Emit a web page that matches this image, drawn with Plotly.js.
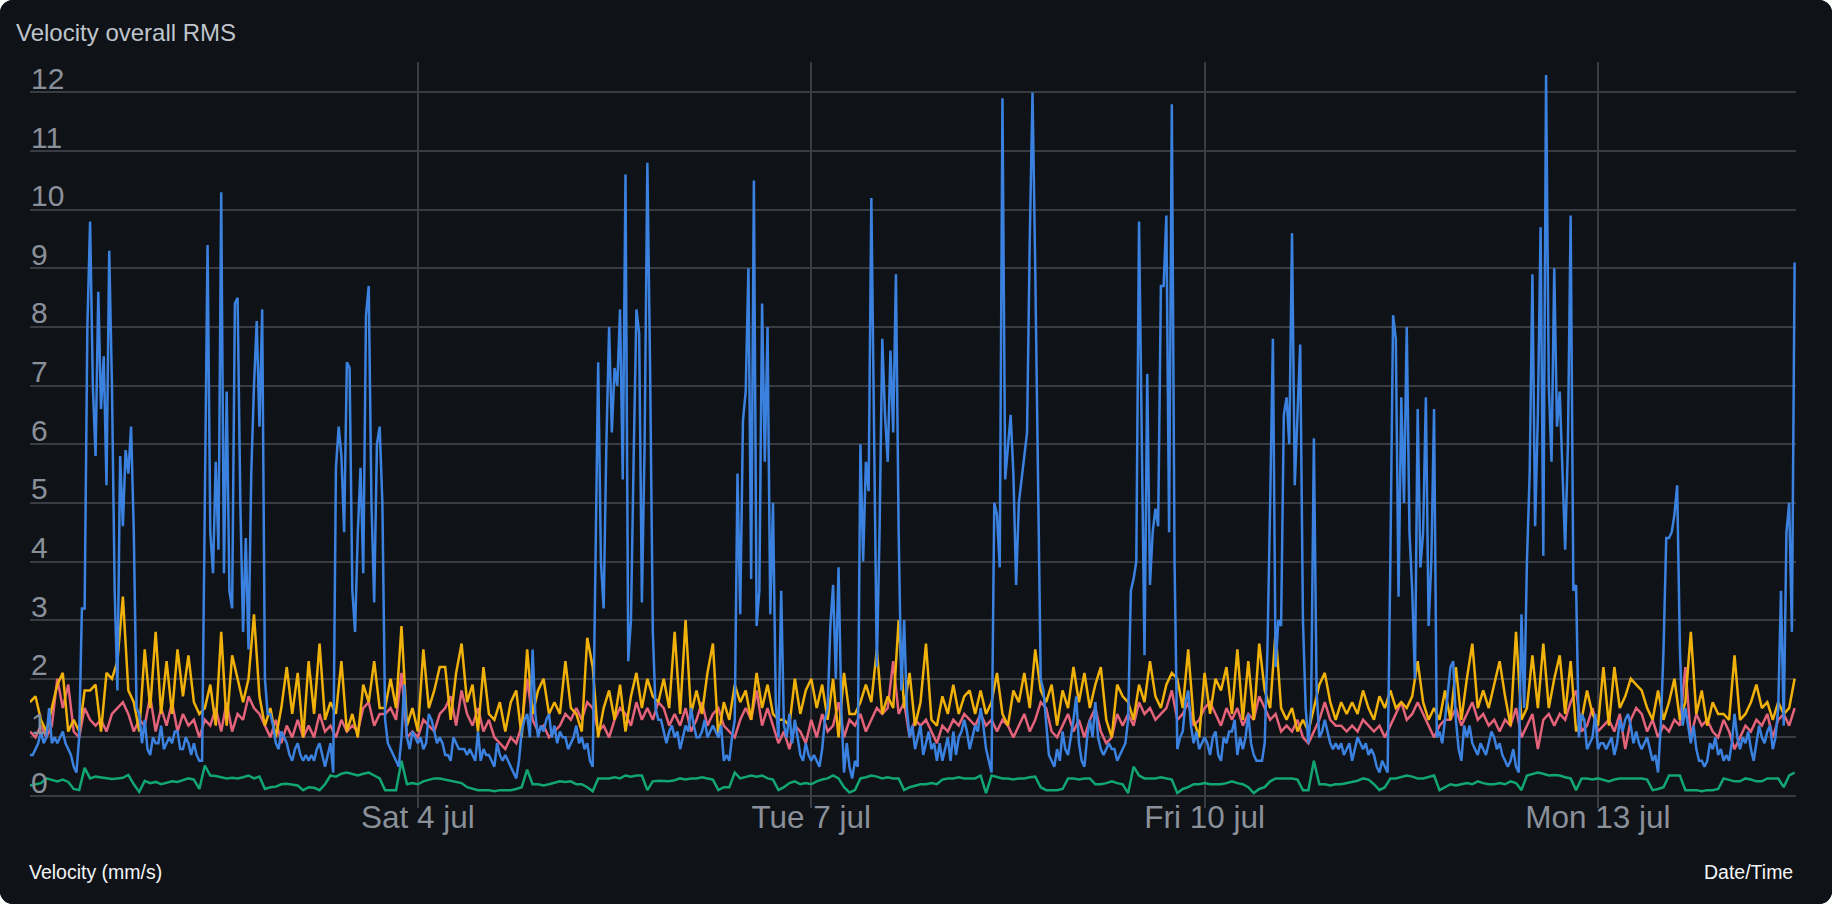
<!DOCTYPE html>
<html>
<head>
<meta charset="utf-8">
<script src="https://cdn.plot.ly/plotly-3.0.1.min.js"></script>
<style>
  html, body { margin: 0; padding: 0; background: #ffffff; }
  #plot1 { width: 1832px; height: 904px; border-radius: 13px; overflow: hidden; background: #0f1216; }
</style>
</head>
<body>
<div id="plot1"></div>
<script>
// first sample 2020-07-01 01:00, blue every 30 min, the others every hour
var startTime = Date.UTC(2020, 6, 1, 1, 0);

var tickDates = ['2020-07-04', '2020-07-07', '2020-07-10', '2020-07-13'];
var tickLabels = ['Sat 4 jul', 'Tue 7 jul', 'Fri 10 jul', 'Mon 13 jul'];

var blue = [
  0.7, 0.7, 0.8, 0.9, 1.1, 0.9, 1.0, 1.5, 0.9, 1.0, 0.9, 1.0, 1.1, 0.9, 0.8, 0.7, 0.5, 0.4, 1.0, 3.2,
  3.2, 8.0, 9.8, 7.0, 5.8, 8.6, 6.6, 7.5, 5.3, 9.3, 7.0, 3.5, 1.8, 5.8, 4.6, 5.9, 5.5, 6.3, 4.5, 1.5,
  1.4, 0.9, 1.3, 0.8, 0.7, 1.0, 0.9, 0.9, 1.2, 0.8, 0.9, 1.0, 0.9, 1.1, 1.1, 0.8, 0.8, 1.0, 0.9, 0.7, 0.9, 0.7, 0.6, 0.6,
  5.0, 9.4, 4.5, 3.8, 5.7, 4.2, 10.3, 3.8, 6.9, 3.5, 3.2, 8.4, 8.5, 5.0, 2.8, 4.4, 2.5, 5.5, 7.0, 8.1, 6.3, 8.3, 2.0, 1.4,
  1.4, 1.2, 0.9, 0.8, 1.1, 1.0, 0.9, 0.7, 0.6, 0.8, 0.9, 0.7, 0.6, 0.7, 0.6, 0.7, 0.6, 0.8, 0.9, 0.7, 0.5, 0.7, 0.9, 0.4,
  5.6, 6.3, 5.8, 4.5, 7.4, 7.3, 3.5, 2.8, 4.5, 5.6, 3.8, 8.2, 8.7, 5.0, 3.3, 6.0, 6.3,
  5.0, 1.3, 0.9, 0.8, 0.7, 0.6, 0.5, 1.0, 1.9, 1.0,
  0.8, 1.1, 1.0, 0.9, 1.0, 0.8, 0.9, 1.4, 1.3, 1.1,
  0.9, 1.0, 0.9, 0.7, 0.7, 0.6, 1.0, 0.9, 0.8, 0.8,
  0.8, 0.7, 0.8, 0.7, 0.6, 1.1, 0.6, 0.8, 0.7, 0.7,
  0.6, 0.5, 0.9, 0.7, 0.6, 0.7, 0.6, 0.5, 0.4, 0.3,
  0.6, 1.1, 1.3, 1.4, 1.0, 2.5, 1.4, 1.0, 1.2, 1.1,
  1.3, 1.4, 1.0, 1.2, 0.9, 1.1, 1.0, 1.0, 0.8, 0.9,
  1.0, 1.2, 0.9, 1.0, 0.8, 0.9, 0.6, 0.5,
  4.0, 7.4, 4.0, 3.2, 6.0, 8.0, 6.2, 7.3, 7.0, 8.3, 5.4, 10.6, 2.3, 3.0, 5.8, 8.3, 7.9, 3.3, 6.0, 10.8, 7.3, 2.8, 1.5,
  1.3, 1.3, 1.1, 0.9, 1.1, 1.2, 1.0, 1.1, 0.8, 1.0,
  1.2, 1.1, 1.5, 1.2, 1.0, 1.0, 1.1, 1.3, 1.0, 1.1,
  1.2, 1.1, 1.0, 1.2, 0.6, 0.7, 0.6, 1.0, 1.3,
  5.5, 3.1, 6.4, 6.9, 9.0, 3.7, 10.5, 2.9, 3.5, 8.4, 5.7, 8.0, 3.1, 5.0, 1.6, 1.0, 3.5, 1.2,
  1.0, 1.4, 0.9, 1.3, 1.0, 0.7, 0.6, 0.9, 0.7, 0.6,
  0.7, 0.6, 0.5, 0.8, 1.3, 1.5, 2.9, 3.6, 2.0, 3.9,
  1.5, 0.4, 0.9, 0.5, 0.3, 0.6, 0.5,
  6.0, 4.0, 5.7, 5.2, 10.2, 6.0, 2.2, 4.5, 7.8, 6.5, 5.7, 7.6, 6.2, 8.9, 4.5, 1.8, 3.0, 1.5,
  1.0, 1.2, 0.8, 1.0, 1.2, 0.7, 0.9, 1.1, 0.8, 0.9,
  0.6, 0.9, 0.6, 0.8, 1.0, 0.6, 1.1, 0.7, 1.0, 1.1,
  1.3, 1.1, 0.8, 1.0, 1.2, 1.1, 1.5, 1.2, 0.8, 0.6,
  0.4,
  5.0, 4.8, 3.9, 11.9, 5.4, 6.0, 6.5, 5.5, 3.6, 5.0, 5.4, 5.8, 6.2, 9.5, 12.0, 9.0, 5.0, 2.0, 1.8,
  1.3, 0.7, 0.6, 0.5, 0.8, 0.6, 1.1, 0.8, 0.7, 1.0,
  1.3, 1.7, 0.9, 0.6, 0.5, 1.0, 1.3, 1.0, 1.6, 1.0,
  0.8, 0.7, 0.8, 0.9, 0.8, 0.8, 0.6, 0.7, 0.8, 0.9,
  1.3,
  3.5, 3.7, 4.0, 9.8, 6.0, 2.4, 7.2, 3.6, 4.5, 4.9, 4.6, 8.7, 8.7, 9.9, 4.5, 11.8, 4.0, 0.8, 1.0,
  1.1, 1.6, 1.8, 1.2, 0.9, 1.1, 0.8, 0.9, 1.0, 0.9,
  0.7, 1.0, 1.1, 0.7, 0.6, 1.0, 0.9, 1.1, 1.1, 1.3,
  0.7, 1.0, 0.8, 1.0, 1.4, 0.9, 0.7, 0.6, 0.6, 0.6,
  0.9,
  2.5, 5.0, 7.8, 2.2, 3.0, 2.9, 6.5, 6.8, 6.0, 9.6, 5.3, 6.5, 7.7, 3.0, 1.5, 0.9, 1.5, 6.1, 1.8, 1.0,
  1.1, 1.3, 1.1, 0.9, 0.8, 0.9, 0.8, 0.9, 0.7, 0.8,
  0.9, 0.6, 0.8, 1.0, 0.9, 0.8, 0.9, 0.7, 0.8, 0.7,
  0.5, 0.4, 0.6, 0.5, 0.4,
  4.0, 8.2, 7.8, 3.4, 6.8, 5.0, 8.0, 4.5, 3.5, 2.0, 6.6, 3.9, 4.5, 6.8, 2.9, 4.0, 6.6, 1.0, 1.1, 0.9, 1.3,
  1.8, 2.2, 2.3, 1.3, 0.8, 0.6, 1.2, 1.0, 1.2, 0.9,
  0.8, 0.7, 0.9, 0.8, 0.7, 0.9, 1.1, 1.0, 0.8, 0.9,
  0.7, 0.6, 0.5, 0.6, 0.8, 0.5, 0.4,
  3.1, 1.5, 4.0, 5.5, 8.9, 4.6, 6.5, 9.7, 4.1, 12.3, 7.0, 5.7, 9.0, 6.3, 6.9, 5.5, 4.2, 6.0, 9.9, 3.5, 3.6, 1.0, 1.4,
  1.3, 0.8, 0.9, 1.0, 1.4, 0.8, 0.9, 0.9, 0.8, 0.9,
  1.0, 0.7, 0.9, 1.3, 1.1, 1.3, 1.4, 1.2, 0.9, 1.1,
  0.9, 0.8, 0.9, 1.0, 0.8, 0.6, 0.7, 0.4, 1.2,
  2.5, 4.4, 4.4, 4.5, 4.8, 5.3, 2.5, 1.2,
  1.5, 1.2, 0.9, 1.2, 0.8, 0.6, 0.6, 0.5, 0.6, 0.9,
  0.8, 1.0, 0.7, 0.8, 0.6, 0.7, 0.6, 0.9, 1.4, 1.0,
  0.8, 1.0, 0.9, 1.1, 0.8, 0.6, 0.9, 1.2, 1.0, 0.9,
  1.1, 1.2, 0.8, 1.0, 1.5,
  3.5, 1.2, 4.5, 5.0, 2.8, 9.1
];

var yellow = [
  1.6, 1.7, 1.3, 1.1, 1.5, 1.9, 2.1, 1.1, 1.3, 1.1,
  1.8, 1.8, 1.9, 1.1, 2.1, 2.0, 2.3, 3.4, 1.8, 1.6,
  1.1, 2.5, 1.5, 2.8, 1.4, 2.3, 1.4, 2.5, 1.7, 2.4,
  1.6, 1.4, 1.5, 1.9, 1.2, 2.8, 1.2, 2.4, 2.0, 1.6,
  2.0, 3.1, 1.7, 1.2, 1.5, 1.0, 1.5, 2.2, 1.4, 2.1,
  1.0, 2.3, 1.4, 2.6, 1.3, 1.6, 1.4, 2.3, 1.1, 1.4,
  1.0, 1.9, 1.6, 2.3, 1.5,
  1.5, 2.0, 1.5, 2.9, 1.2, 1.5, 1.1, 2.5, 1.5, 1.8,
  2.2, 2.2, 1.3, 2.1, 2.6, 1.6, 1.9, 1.1, 2.2, 1.4,
  1.3, 1.6, 1.1, 1.6, 1.8, 1.0, 2.5, 1.4, 1.8, 2.0,
  1.4, 1.6, 1.4, 2.3, 1.5, 1.4, 1.1, 2.7, 2.2, 1.0,
  1.5, 1.8, 1.3, 1.9, 1.1, 1.7, 2.1, 1.5, 2.0, 1.7,
  1.6, 2.0, 1.5, 2.8, 1.4, 3.0, 1.4, 1.8, 1.4, 2.1,
  2.6, 1.0, 1.6, 1.3, 1.9,
  1.6, 1.8, 1.3, 2.1, 1.5, 1.9, 1.4, 1.3, 1.3, 1.2,
  2.0, 1.4, 1.8, 2.0, 1.5, 1.9, 1.3, 2.0, 1.0, 2.1,
  1.4, 1.4, 1.6, 1.9, 1.6, 2.5, 1.4, 1.7, 1.5, 3.0,
  1.5, 2.1, 1.2, 1.6, 2.6, 1.3, 1.2, 1.7, 1.4, 1.9,
  1.4, 1.7, 1.8, 1.4, 1.8, 1.4, 1.6, 2.1, 1.4, 1.2,
  1.8, 1.6, 2.1, 1.5, 2.5, 1.8, 1.6, 1.9, 1.2, 1.8,
  1.5, 2.2, 1.6, 2.1, 1.5,
  1.9, 2.2, 1.3, 1.0, 1.9, 1.7, 1.6, 1.3, 1.9, 1.6,
  2.3, 1.7, 1.5, 1.9, 2.1, 2.0, 1.5, 2.5, 1.3, 1.0,
  2.1, 1.4, 2.0, 1.8, 2.2, 1.4, 2.5, 1.3, 2.3, 1.3,
  2.6, 1.8, 1.5, 2.8, 1.5, 1.3, 1.5, 1.1, 1.3, 1.1,
  1.5, 1.9, 2.1, 1.6, 1.3, 1.6, 1.4, 1.6, 1.4, 1.8,
  1.5, 1.3, 1.7, 1.5, 1.8, 1.5, 1.6, 1.5, 1.7, 2.3,
  1.6, 1.3, 1.5, 1.3, 1.8,
  1.3, 2.2, 1.3, 2.0, 2.6, 1.5, 1.8, 1.5, 1.9, 2.3,
  1.7, 1.2, 2.8, 1.3, 1.5, 2.4, 1.5, 2.6, 1.5, 2.0,
  2.4, 1.4, 2.3, 1.1, 1.3, 1.8, 1.4, 1.2, 2.2, 1.2,
  2.2, 1.5, 1.7, 2.0, 1.9, 1.8, 1.5, 1.3, 1.8, 1.3,
  1.6, 2.0, 1.3, 1.6, 2.8, 1.4, 1.8, 1.2, 1.6, 1.4,
  1.4, 1.3, 2.4, 1.3, 1.4, 1.6, 1.9, 1.5, 1.6, 1.3,
  1.6, 1.4, 1.5, 2.0
];

var pink = [
  1.1, 1.0, 1.2, 1.0, 1.2, 2.0, 1.5, 1.9, 1.1, 1.0,
  1.5, 1.3, 1.2, 1.3, 1.1, 1.4, 1.5, 1.6, 1.4, 1.1,
  1.3, 1.2, 1.7, 1.1, 1.5, 1.2, 1.6, 1.1, 1.4, 1.2,
  1.3, 1.0, 1.3, 1.2, 1.5, 1.1, 1.6, 1.1, 1.4, 1.3,
  1.7, 1.5, 1.4, 1.2, 1.0, 1.3, 0.9, 1.2, 1.0, 1.3,
  1.0, 1.2, 1.0, 1.4, 1.1, 1.2, 1.0, 1.3, 1.1, 1.2,
  1.1, 1.5, 1.6, 1.2, 1.4,
  1.4, 1.5, 1.3, 2.1, 1.0, 1.1, 1.0, 1.3, 1.2, 1.1,
  1.4, 1.5, 1.7, 1.2, 1.8, 1.4, 1.2, 1.5, 1.1, 1.3,
  1.0, 0.9, 0.8, 1.0, 0.9, 1.2, 2.0, 1.3, 1.1, 1.2,
  1.0, 1.1, 1.2, 1.4, 1.3, 1.5, 1.3, 1.6, 1.5, 1.1,
  1.2, 1.0, 1.3, 1.5, 1.4, 1.2, 1.6, 1.3, 1.5, 1.3,
  1.6, 1.5, 1.2, 1.4, 1.2, 1.5, 1.1, 1.3, 1.6, 1.2,
  1.4, 1.5, 1.2, 1.1, 1.0,
  1.3, 1.5, 1.3, 1.8, 1.2, 1.5, 1.2, 0.9, 1.1, 0.8,
  1.2, 1.1, 0.9, 1.3, 1.0, 1.4, 1.1, 1.2, 1.6, 1.0,
  1.3, 1.2, 1.4, 1.1, 1.3, 1.5, 1.4, 1.5, 2.3, 1.4,
  1.6, 1.0, 1.3, 1.2, 1.3, 1.1, 0.9, 1.2, 1.1, 1.3,
  1.2, 1.4, 1.3, 1.2, 1.4, 1.2, 1.3, 1.1, 1.3, 1.2,
  1.0, 1.2, 1.4, 1.1, 1.3, 1.6, 1.5, 1.1, 1.0, 1.2,
  1.4, 1.1, 1.3, 1.0, 1.3,
  1.5, 1.1, 0.9, 1.0, 1.4, 1.2, 1.4, 1.2, 1.6, 1.4,
  1.5, 1.3, 1.4, 1.5, 1.8, 1.3, 1.4, 1.6, 1.2, 1.3,
  1.5, 1.6, 1.4, 1.2, 1.5, 1.3, 1.5, 1.2, 1.4, 1.3,
  1.7, 1.5, 1.3, 1.4, 1.1, 1.2, 1.1, 1.3, 1.0, 0.9,
  1.1, 1.3, 1.6, 1.3, 1.2, 1.2, 1.1, 1.2, 1.1, 1.3,
  1.2, 1.1, 1.2, 1.0, 1.2, 1.4, 1.6, 1.3, 1.4, 1.6,
  1.4, 1.2, 1.0, 1.2, 1.3,
  1.3, 1.5, 1.2, 1.4, 1.6, 1.3, 1.4, 1.2, 1.3, 1.1,
  1.3, 1.2, 1.5, 1.0, 1.2, 1.4, 0.8, 1.3, 1.4, 1.2,
  1.4, 1.3, 1.6, 1.8, 1.1, 1.2, 1.5, 1.1, 1.2, 1.3,
  1.1, 1.4, 0.8, 1.3, 1.5, 1.4, 1.1, 1.3, 1.0, 1.2,
  1.1, 1.3, 1.2, 2.2, 1.0, 1.4, 1.2, 1.3, 1.1, 1.0,
  1.3, 1.1, 0.8, 1.0, 1.2, 1.1, 1.3, 1.2, 1.4, 1.0,
  1.3, 1.4, 1.2, 1.5
];

var green = [
  0.18, 0.2, 0.22, 0.3, 0.27, 0.25, 0.28, 0.24, 0.12, 0.1,
  0.48, 0.3, 0.33, 0.32, 0.3, 0.29, 0.3, 0.31, 0.36, 0.2,
  0.07, 0.26, 0.22, 0.24, 0.2, 0.23, 0.25, 0.24, 0.27, 0.3,
  0.28, 0.12, 0.52, 0.35, 0.34, 0.32, 0.3, 0.31, 0.3, 0.32,
  0.35, 0.3, 0.33, 0.12, 0.15, 0.16, 0.2, 0.21, 0.2, 0.18,
  0.1, 0.15, 0.14, 0.1, 0.2, 0.35, 0.33, 0.38, 0.4, 0.37,
  0.35, 0.38, 0.4, 0.35, 0.3,
  0.1, 0.1, 0.1, 0.6, 0.2, 0.22, 0.2, 0.25, 0.27, 0.3,
  0.3, 0.28, 0.26, 0.25, 0.22, 0.15, 0.12, 0.1, 0.1, 0.1,
  0.08, 0.1, 0.1, 0.1, 0.12, 0.15, 0.45, 0.2, 0.2, 0.18,
  0.2, 0.22, 0.25, 0.24, 0.25, 0.2, 0.2, 0.15, 0.08, 0.3,
  0.3, 0.3, 0.32, 0.3, 0.35, 0.33, 0.35, 0.35, 0.1, 0.25,
  0.26, 0.25, 0.25, 0.27, 0.3, 0.28, 0.3, 0.3, 0.32, 0.3,
  0.28, 0.1, 0.15, 0.15, 0.4,
  0.3, 0.32, 0.35, 0.33, 0.35, 0.3, 0.28, 0.1, 0.15, 0.22,
  0.25, 0.2, 0.22, 0.2, 0.25, 0.28, 0.3, 0.35, 0.3, 0.15,
  0.06, 0.1, 0.3, 0.32, 0.35, 0.33, 0.3, 0.32, 0.3, 0.3,
  0.1, 0.15, 0.18, 0.2, 0.2, 0.22, 0.2, 0.28, 0.3, 0.3,
  0.32, 0.3, 0.3, 0.3, 0.35, 0.05, 0.35, 0.32, 0.3, 0.3,
  0.28, 0.3, 0.3, 0.32, 0.33, 0.15, 0.1, 0.1, 0.1, 0.12,
  0.3, 0.3, 0.28, 0.3, 0.3,
  0.2, 0.2, 0.22, 0.25, 0.22, 0.2, 0.05, 0.5, 0.35, 0.3,
  0.3, 0.3, 0.32, 0.3, 0.28, 0.05, 0.12, 0.15, 0.2, 0.2,
  0.22, 0.2, 0.2, 0.2, 0.22, 0.25, 0.22, 0.2, 0.15, 0.05,
  0.12, 0.15, 0.25, 0.3, 0.3, 0.3, 0.3, 0.28, 0.1, 0.1,
  0.6, 0.2, 0.2, 0.18, 0.2, 0.2, 0.22, 0.25, 0.26, 0.3,
  0.28, 0.2, 0.1, 0.15, 0.3, 0.3, 0.32, 0.35, 0.33, 0.3,
  0.3, 0.32, 0.35, 0.1, 0.15,
  0.2, 0.18, 0.2, 0.22, 0.2, 0.25, 0.22, 0.2, 0.2, 0.22,
  0.2, 0.25, 0.22, 0.1, 0.35, 0.38, 0.4, 0.38, 0.35, 0.36,
  0.35, 0.32, 0.3, 0.1, 0.3, 0.3, 0.28, 0.3, 0.27, 0.25,
  0.28, 0.3, 0.3, 0.3, 0.3, 0.3, 0.28, 0.1, 0.12, 0.15,
  0.35, 0.35, 0.35, 0.1, 0.1, 0.1, 0.08, 0.1, 0.1, 0.12,
  0.3, 0.28, 0.25, 0.25, 0.3, 0.28, 0.25, 0.25, 0.3, 0.3,
  0.3, 0.15, 0.35, 0.4
];

function times(values, stepMinutes) {
  return values.map(function (v, i) { return startTime + i * stepMinutes * 60000; });
}

function series(values, step, color) {
  return {
    x: times(values, step),
    y: values,
    type: 'scatter',
    mode: 'lines',
    line: {color: color, width: 2.5},
    hoverinfo: 'skip'
  };
}

var data = [
  series(green, 60, '#12a772'),
  series(pink, 60, '#e3637a'),
  series(yellow, 60, '#f1b10b'),
  series(blue, 30, '#3b82e0')
];

var gridColor = '#393d43';
var fontFamily = 'Liberation Sans, Arial, sans-serif';

var layout = {
  width: 1832,
  height: 904,
  margin: {l: 30, r: 36, t: 62, b: 108},
  paper_bgcolor: '#0f1216',
  plot_bgcolor: '#0f1216',
  showlegend: false,
  hovermode: false,
  font: {family: fontFamily},
  title: {
    text: 'Velocity overall RMS',
    font: {size: 24, color: '#bfc5cc', family: fontFamily},
    x: 16 / 1832, xref: 'container', xanchor: 'left',
    y: 1 - 33 / 904, yref: 'container', yanchor: 'middle'
  },
  xaxis: {
    type: 'date',
    range: ['2020-07-01 01:00', '2020-07-14 12:15'],
    tickvals: tickDates,
    ticktext: tickLabels,
    showgrid: true,
    gridcolor: gridColor,
    gridwidth: 2,
    ticks: 'outside',
    ticklen: 11,
    tickwidth: 2,
    tickcolor: gridColor,
    ticklabelstandoff: -18,
    tickfont: {size: 31.5, color: '#8a909a', family: fontFamily},
    zeroline: false,
    showline: false
  },
  yaxis: {
    range: [0, 12.52],
    tick0: 0,
    dtick: 1,
    showgrid: true,
    gridcolor: gridColor,
    gridwidth: 2,
    zeroline: true,
    zerolinecolor: gridColor,
    zerolinewidth: 2,
    ticks: '',
    ticklabelposition: 'inside top',
    ticklabeloverflow: 'allow',
    ticklabelshift: 7,
    ticklabelstandoff: -2,
    tickfont: {size: 30, color: '#8a909a', family: fontFamily},
    showline: false
  },
  annotations: [
    {
      text: 'Velocity (mm/s)', showarrow: false,
      xref: 'paper', yref: 'paper', x: -3 / 1766, y: -76 / 734,
      xanchor: 'left', yanchor: 'middle',
      font: {size: 19.5, color: '#f3f5f7', family: fontFamily}
    },
    {
      text: 'Date/Time', showarrow: false,
      xref: 'paper', yref: 'paper', x: 1765 / 1766, y: -76 / 734,
      xanchor: 'right', yanchor: 'middle',
      font: {size: 19.5, color: '#f3f5f7', family: fontFamily}
    }
  ]
};

Plotly.newPlot('plot1', data, layout, {displayModeBar: false, staticPlot: true});
</script>
</body>
</html>
